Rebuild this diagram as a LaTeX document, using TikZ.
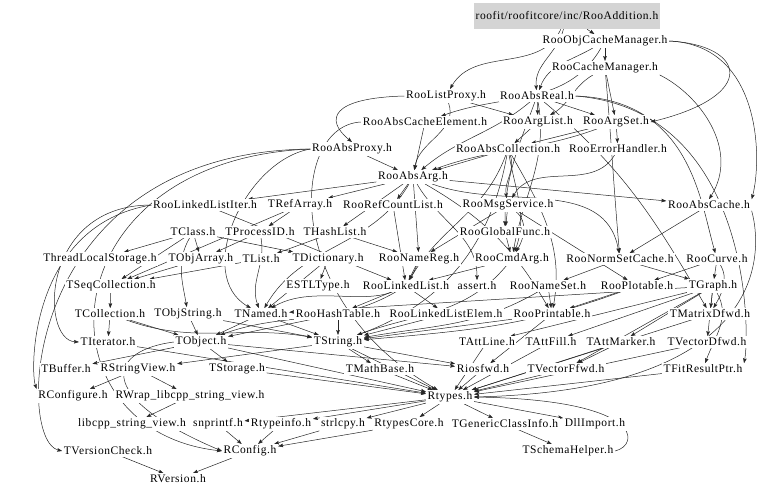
\documentclass[tikz,border=0pt]{standalone}
\usepackage{fontspec}
\setmainfont[LetterSpace=5]{Liberation Serif}
\usepackage{tikz}
\usetikzlibrary{arrows.meta}
\pgfdeclarelayer{bg}
\pgfsetlayers{bg,main}
\tikzset{
	file/.style={inner sep=1.5pt, fill=white, font=\fontsize{11.5}{13}\selectfont},
	rootfile/.style={file, fill=black!17, minimum width=186pt, minimum height=26pt},
	arr/.style={-{Stealth[length=5pt, width=3.6pt, inset=0.8pt]}, draw=black!85, line width=0.5pt},
}

\begin{document}
\begin{tikzpicture}[x=1pt, y=-1pt]
	\useasboundingbox (0,0) rectangle (768,493);
	
	\node[rootfile] (root) at (567,16) {roofit/roofitcore/inc/RooAddition.h};
	\node[file] (objcm) at (605,41) {RooObjCacheManager.h};
	\node[file] (cachemgr) at (605,68) {RooCacheManager.h};
	\node[file] (listproxy) at (446,96) {RooListProxy.h};
	\node[file] (absreal) at (537,96) {RooAbsReal.h};
	\node[file] (cacheelem) at (425,122) {RooAbsCacheElement.h};
	\node[file] (arglist) at (538,122) {RooArgList.h};
	\node[file] (argset) at (616,122) {RooArgSet.h};
	\node[file] (absproxy) at (352,149) {RooAbsProxy.h};
	\node[file] (abscoll) at (508,149) {RooAbsCollection.h};
	\node[file] (errhandler) at (618,149) {RooErrorHandler.h};
	\node[file] (absarg) at (413,177) {RooAbsArg.h};
	\node[file] (llistiter) at (205,205) {RooLinkedListIter.h};
	\node[file] (trefarray) at (300,205) {TRefArray.h};
	\node[file] (refcount) at (393,205) {RooRefCountList.h};
	\node[file] (msgservice) at (508,205) {RooMsgService.h};
	\node[file] (abscache) at (709,205) {RooAbsCache.h};
	\node[file] (tclass) at (193,232) {TClass.h};
	\node[file] (tprocessid) at (260,232) {TProcessID.h};
	\node[file] (thashlist) at (335,232) {THashList.h};
	\node[file] (globalfunc) at (505,232) {RooGlobalFunc.h};
	\node[file] (tls) at (100,259) {ThreadLocalStorage.h};
	\node[file] (tobjarray) at (201,259) {TObjArray.h};
	\node[file] (tlist) at (261,259) {TList.h};
	\node[file] (tdict) at (328,259) {TDictionary.h};
	\node[file] (namereg) at (419,259) {RooNameReg.h};
	\node[file] (cmdarg) at (512,259) {RooCmdArg.h};
	\node[file] (normset) at (620,259) {RooNormSetCache.h};
	\node[file] (curve) at (717,259) {RooCurve.h};
	\node[file] (tseqcoll) at (111,286) {TSeqCollection.h};
	\node[file] (estl) at (318,286) {ESTLType.h};
	\node[file] (llist) at (406,286) {RooLinkedList.h};
	\node[file] (assert) at (477,286) {assert.h};
	\node[file] (nameset) at (548,286) {RooNameSet.h};
	\node[file] (plotable) at (637,286) {RooPlotable.h};
	\node[file] (tgraph) at (713,286) {TGraph.h};
	\node[file] (tcoll) at (110,314) {TCollection.h};
	\node[file] (tobjstring) at (188,314) {TObjString.h};
	\node[file] (tnamed) at (261,314) {TNamed.h};
	\node[file] (hashtable) at (338,314) {RooHashTable.h};
	\node[file] (llistelem) at (446,314) {RooLinkedListElem.h};
	\node[file] (printable) at (552,314) {RooPrintable.h};
	\node[file] (matrixd) at (710,314) {TMatrixDfwd.h};
	\node[file] (titerator) at (108,342) {TIterator.h};
	\node[file] (tobject) at (201,342) {TObject.h};
	\node[file] (tstring) at (338,342) {TString.h};
	\node[file] (attline) at (487,342) {TAttLine.h};
	\node[file] (attfill) at (551,342) {TAttFill.h};
	\node[file] (attmarker) at (621,342) {TAttMarker.h};
	\node[file] (vectord) at (707,342) {TVectorDfwd.h};
	\node[file] (tbuffer) at (66,369) {TBuffer.h};
	\node[file] (stringview) at (138,369) {RStringView.h};
	\node[file] (tstorage) at (237,369) {TStorage.h};
	\node[file] (mathbase) at (380,369) {TMathBase.h};
	\node[file] (riosfwd) at (483,369) {Riosfwd.h};
	\node[file] (vectorf) at (566,369) {TVectorFfwd.h};
	\node[file] (fitresult) at (703,369) {TFitResultPtr.h};
	\node[file] (rconfigure) at (73,396) {RConfigure.h};
	\node[file] (rwrap) at (190,396) {RWrap\_libcpp\_string\_view.h};
	\node[file] (rtypes) at (450,397) {Rtypes.h};
	\node[file] (libcpp) at (132,424) {libcpp\_string\_view.h};
	\node[file] (snprintf) at (218,424) {snprintf.h};
	\node[file] (rtypeinfo) at (281,424) {Rtypeinfo.h};
	\node[file] (strlcpy) at (343,424) {strlcpy.h};
	\node[file] (rtypescore) at (409,424) {RtypesCore.h};
	\node[file] (genclass) at (505,424) {TGenericClassInfo.h};
	\node[file] (dllimport) at (595,424) {DllImport.h};
	\node[file] (versioncheck) at (108,451) {TVersionCheck.h};
	\node[file] (rconfig) at (250,451) {RConfig.h};
	\node[file] (schemahelper) at (568,451) {TSchemaHelper.h};
	\node[file] (rversion) at (178,479) {RVersion.h};
	
	\begin{pgfonlayer}{bg}
	\draw[arr] (root) -- (objcm);
	\draw[arr] (root) to[out=-105, in=95] (absreal);
	\draw[arr] (root) to[out=-115, in=60] (listproxy);
	\draw[arr] (objcm) -- (cachemgr);
	\draw[arr] (objcm) to[out=-150, in=70] (absreal);
	\draw[arr] (objcm.east) .. controls (745,45) and (760,95) .. (argset.east);
	\draw[arr] (objcm.east) .. controls (762,45) and (762,160) .. (abscache.north east);
	\draw[arr] (objcm) to[out=-120, in=20] (cacheelem);
	\draw[arr] (cachemgr) -- (argset);
	\draw[arr] (cachemgr.south east) .. controls (700,95) and (740,150) .. (abscache.north);
	\draw[arr] (cachemgr) to[out=-85, in=95] (normset);
	\draw[arr] (cachemgr) to[out=-150, in=30] (arglist);
	
	\draw[arr] (listproxy.west) .. controls (330,98) and (325,120) .. (absproxy.north);
	\draw[arr] (listproxy) -- (arglist);
	\draw[arr] (listproxy) to[out=-70, in=80] (absarg);
	\draw[arr] (absreal) -- (arglist);
	\draw[arr] (absreal) -- (argset);
	\draw[arr] (absreal) to[out=-140, in=40] (absarg);
	\draw[arr] (absreal) to[out=-80, in=80] (cmdarg);
	\draw[arr] (absreal) to[out=-110, in=90] (globalfunc);
	\draw[arr] (absreal.east) .. controls (690,100) and (700,200) .. (curve);
	\draw[arr] (absreal) to[out=-40, in=120] (matrixd);
	\draw[arr] (absreal.east) .. controls (750,110) and (750,330) .. (fitresult.north east);
	\draw[arr] (cacheelem) -- (absarg);
	\draw[arr] (cacheelem.west) .. controls (290,125) and (280,300) .. (rtypes);
	\draw[arr] (arglist) -- (abscoll);
	\draw[arr] (argset) -- (abscoll);
	\draw[arr] (argset) -- (errhandler);
	\draw[arr] (argset) to[out=-160, in=20] (absarg);
	\draw[arr] (absproxy) -- (absarg);
	\draw[arr] (absproxy.west) to[out=-170, in=150] (tnamed);
	\draw[arr] (absproxy.west) .. controls (20,152) and (15,440) .. (versioncheck.west);
	\draw[arr] (absproxy.west) .. controls (45,160) and (35,430) .. (rconfig.west);
	
	\draw[arr] (abscoll) -- (absarg);
	\draw[arr] (abscoll) to[out=-110, in=60] (llist);
	\draw[arr] (abscoll) to[out=-60, in=80] (printable);
	\draw[arr] (abscoll) to[out=-80, in=70] (cmdarg);
	\draw[arr] (abscoll) to[out=-100, in=20] (tstring);
	\draw[arr] (abscoll) to[out=-70, in=100] (msgservice);
	\draw[arr] (errhandler) to[out=-120, in=60] (msgservice);
	\draw[arr] (absarg) -- (llistiter);
	\draw[arr] (absarg) -- (trefarray);
	\draw[arr] (absarg) -- (thashlist);
	\draw[arr] (absarg) -- (refcount);
	\draw[arr] (absarg) -- (abscache);
	\draw[arr] (absarg) -- (namereg);
	\draw[arr] (absarg) to[out=-60, in=90] (assert);
	\draw[arr] (absarg) to[out=-30, in=120] (printable);
	\draw[arr] (absarg) to[out=-20, in=100] (normset);
	\draw[arr] (absarg) to[out=-120, in=60] (tnamed);
	
	\draw[arr] (llistiter.west) .. controls (40,205) and (40,340) .. (titerator.west);
	\draw[arr] (llistiter.west) .. controls (30,225) and (30,370) .. (rconfigure.north west);
	\draw[arr] (llistiter) -- (llist);
	\draw[arr] (trefarray) -- (tseqcoll);
	\draw[arr] (trefarray) -- (tprocessid);
	\draw[arr] (refcount) -- (llist);
	\draw[arr] (msgservice) -- (globalfunc);
	\draw[arr] (msgservice) to[out=-40, in=60] (cmdarg);
	\draw[arr] (msgservice) -- (namereg);
	\draw[arr] (msgservice) -- (plotable);
	\draw[arr] (abscache.south east) .. controls (765,260) and (760,390) .. (rtypes.east);
	\draw[arr] (abscache) -- (normset);
	
	\draw[arr] (tclass) -- (tls);
	\draw[arr] (tclass) -- (tobjarray);
	\draw[arr] (tclass) -- (tdict);
	\draw[arr] (tclass) to[out=-120, in=100] (tobjstring);
	\draw[arr] (tclass) -- (tseqcoll);
	\draw[arr] (tprocessid) -- (tobjarray);
	\draw[arr] (tprocessid) to[out=-80, in=110] (tnamed);
	\draw[arr] (thashlist) -- (tlist);
	\draw[arr] (thashlist) -- (namereg);
	\draw[arr] (globalfunc) -- (cmdarg);
	\draw[arr] (tobjarray) -- (tseqcoll);
	\draw[arr] (tlist) -- (tseqcoll);
	\draw[arr] (tdict) -- (estl);
	\draw[arr] (tdict) -- (tnamed);
	\draw[arr] (namereg) -- (llist);
	\draw[arr] (namereg) to[out=-110, in=30] (tnamed);
	\draw[arr] (cmdarg) -- (llist);
	\draw[arr] (cmdarg) to[out=-130, in=20] (tstring);
	\draw[arr] (normset) -- (nameset);
	\draw[arr] (normset) -- (tgraph);
	\draw[arr] (curve) -- (tgraph);
	\draw[arr] (curve) -- (plotable);
	\draw[arr] (curve) to[out=-60, in=60] (matrixd);
	
	\draw[arr] (tseqcoll) -- (tcoll);
	\draw[arr] (llist) -- (hashtable);
	\draw[arr] (llist) -- (llistelem);
	\draw[arr] (llist) to[out=-150, in=20] (tobject);
	\draw[arr] (nameset) -- (printable);
	\draw[arr] (nameset) to[out=-150, in=10] (tstring);
	\draw[arr] (plotable) -- (printable);
	\draw[arr] (plotable) to[out=-160, in=5] (tstring);
	\draw[arr] (tgraph) -- (tnamed);
	\draw[arr] (tgraph) -- (attline);
	\draw[arr] (tgraph) -- (attfill);
	\draw[arr] (tgraph) -- (attmarker);
	\draw[arr] (tgraph) -- (vectord);
	\draw[arr] (tgraph) -- (vectorf);
	\draw[arr] (tgraph) to[out=-60, in=70] (fitresult);
	\draw[arr] (tgraph) -- (matrixd);
	
	\draw[arr] (tcoll) -- (tobject);
	\draw[arr] (tcoll) -- (titerator);
	\draw[arr] (tcoll) to[out=-20, in=170] (tstring);
	\draw[arr] (tobjstring) -- (tobject);
	\draw[arr] (tobjstring) -- (tstring);
	\draw[arr] (tnamed) -- (tobject);
	\draw[arr] (tnamed) -- (tstring);
	\draw[arr] (hashtable) -- (tobject);
	\draw[arr] (hashtable) -- (tstring);
	\draw[arr] (llistelem) -- (tstring);
	\draw[arr] (printable) -- (riosfwd);
	\draw[arr] (printable) -- (tstring);
	\draw[arr] (matrixd) -- (rtypes);
	\draw[arr] (titerator) -- (rtypes);
	\draw[arr] (tobject) -- (rtypes);
	\draw[arr] (tobject) -- (tstorage);
	\draw[arr] (tobject) -- (riosfwd);
	\draw[arr] (tobject) -- (tbuffer);
	\draw[arr] (tobject.west) .. controls (110,350) and (90,395) .. (rconfig.west);
	\draw[arr] (tstring) -- (rtypes);
	\draw[arr] (tstring) -- (mathbase);
	\draw[arr] (tstring) -- (stringview);
	\draw[arr] (tstring) -- (riosfwd);
	\draw[arr] (attline) -- (rtypes);
	\draw[arr] (attfill) -- (rtypes);
	\draw[arr] (attmarker) -- (rtypes);
	\draw[arr] (attmarker) -- (vectorf);
	\draw[arr] (vectord) -- (rtypes);
	
	\draw[arr] (stringview) -- (rconfigure);
	\draw[arr] (stringview) -- (rwrap);
	\draw[arr] (tstorage) -- (rtypes);
	\draw[arr] (mathbase) -- (rtypes);
	\draw[arr] (riosfwd) -- (rtypes);
	\draw[arr] (vectorf) -- (rtypes);
	\draw[arr] (fitresult) -- (rtypes);
	\draw[arr] (rwrap) -- (libcpp);
	\draw[arr] (rtypes) -- (snprintf);
	\draw[arr] (rtypes) -- (rtypeinfo);
	\draw[arr] (rtypes) -- (strlcpy);
	\draw[arr] (rtypes) -- (rtypescore);
	\draw[arr] (rtypes) -- (genclass);
	\draw[arr] (rtypes) -- (dllimport);
	\draw[arr] (snprintf) -- (rconfig);
	\draw[arr] (rtypeinfo) -- (rconfig);
	\draw[arr] (strlcpy) -- (rconfig);
	\draw[arr] (rtypescore) -- (rconfig);
	\draw[arr] (genclass) -- (schemahelper);
	\draw[arr] (schemahelper.east) .. controls (640,445) and (645,400) .. (rtypes.east);
	\draw[arr] (versioncheck) -- (rversion);
	\draw[arr] (rconfig) -- (rversion);
	\end{pgfonlayer}
	
\end{tikzpicture}
\end{document}
